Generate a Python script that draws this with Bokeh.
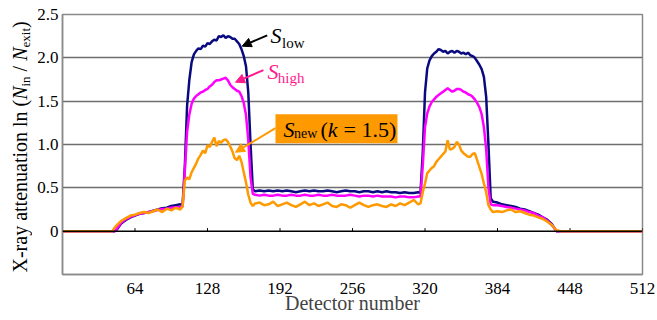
from bokeh.plotting import figure
from bokeh.layouts import row
from bokeh.models import (Range1d, FixedTicker, CustomJSTickFormatter, Span, Label,
                          Arrow, NormalHead, BoxAnnotation)
from bokeh.embed import file_html
from bokeh.resources import INLINE

# ---------------- data ----------------
detector = [0, 40, 44, 46, 48,
            52, 56, 60, 64, 68, 72, 76, 80, 84, 88, 92, 96, 100, 104,
            106, 108, 110, 112, 114, 116, 118, 120, 122, 124, 126, 128, 130, 132, 134, 136,
            138, 140, 142, 144, 146, 148, 150, 152, 154, 156, 158, 160, 162, 164, 166, 168, 170,
            174, 178, 182, 186, 190, 194, 198, 202, 206, 210, 214, 218, 222, 226, 230, 234, 238,
            242, 246, 250, 254, 258, 262, 266, 270, 274, 278, 282, 286, 290, 294, 298, 302, 306,
            310, 314,
            316, 318, 320, 322, 324, 326, 328, 330, 332, 334, 336, 338, 340, 342, 344, 346, 348,
            350, 352, 354, 356, 358, 360, 362, 364, 366, 368, 370, 372, 374, 376, 378, 380,
            384, 388, 392, 396, 400, 404, 408, 412, 416, 420, 424, 428, 432, 434, 436, 440, 512]

s_low = [0, 0, 0, 0, 0.02,
         0.09, 0.13, 0.16, 0.18, 0.20, 0.21, 0.22, 0.235, 0.25, 0.265, 0.27, 0.29, 0.30, 0.31,
         0.30, 0.75, 1.45, 1.75, 1.95, 2.04, 2.08, 2.11, 2.10, 2.14, 2.13, 2.17, 2.16, 2.19, 2.21, 2.20,
         2.25, 2.24, 2.26, 2.23, 2.25, 2.24, 2.22, 2.22, 2.19, 2.16, 2.10, 2.02, 1.90, 1.60, 1.00, 0.48, 0.46,
         0.47, 0.46, 0.47, 0.46, 0.47, 0.46, 0.47, 0.46, 0.45, 0.46, 0.47, 0.46, 0.47, 0.46, 0.46, 0.47, 0.46,
         0.45, 0.46, 0.47, 0.46, 0.46, 0.45, 0.46, 0.46, 0.45, 0.46, 0.45, 0.46, 0.45, 0.45, 0.44, 0.45, 0.44,
         0.44, 0.45,
         0.44, 0.90, 1.60, 1.88, 1.97, 2.02, 2.05, 2.07, 2.10, 2.09, 2.07, 2.08, 2.05, 2.07, 2.08, 2.06, 2.08,
         2.07, 2.05, 2.06, 2.04, 2.06, 2.03, 2.02, 2.00, 1.96, 1.92, 1.87, 1.78, 1.55, 1.00, 0.38, 0.34,
         0.33, 0.31, 0.30, 0.29, 0.28, 0.26, 0.25, 0.23, 0.21, 0.19, 0.16, 0.13, 0.08, 0.04, 0.0, 0, 0]

s_high = [0, 0, 0, 0, 0.03,
          0.10, 0.14, 0.165, 0.185, 0.20, 0.21, 0.22, 0.23, 0.245, 0.255, 0.26, 0.27, 0.275, 0.28,
          0.28, 0.70, 1.15, 1.35, 1.47, 1.53, 1.56, 1.58, 1.60, 1.61, 1.63, 1.64, 1.67, 1.69, 1.72, 1.74,
          1.74, 1.75, 1.76, 1.77, 1.74, 1.69, 1.66, 1.64, 1.62, 1.61, 1.56, 1.48, 1.34, 1.05, 0.62, 0.43, 0.42,
          0.41, 0.42, 0.41, 0.41, 0.42, 0.41, 0.41, 0.42, 0.41, 0.41, 0.42, 0.41, 0.41, 0.42, 0.41, 0.41, 0.42,
          0.41, 0.41, 0.41, 0.42, 0.41, 0.40, 0.41, 0.41, 0.40, 0.41, 0.40, 0.40, 0.40, 0.39, 0.40, 0.40, 0.39,
          0.39, 0.40,
          0.40, 0.75, 1.20, 1.36, 1.44, 1.49, 1.52, 1.55, 1.57, 1.59, 1.61, 1.63, 1.65, 1.63, 1.61, 1.62, 1.64,
          1.64, 1.63, 1.61, 1.60, 1.58, 1.57, 1.55, 1.52, 1.48, 1.43, 1.35, 1.20, 0.95, 0.50, 0.31, 0.30,
          0.30, 0.29, 0.28, 0.27, 0.26, 0.25, 0.24, 0.22, 0.21, 0.18, 0.16, 0.12, 0.07, 0.04, 0.0, 0, 0]

s_new = [0, 0, 0, 0.04, 0.07,
         0.12, 0.15, 0.18, 0.19, 0.21, 0.22, 0.21, 0.23, 0.25, 0.22, 0.26, 0.24, 0.27, 0.25,
         0.29, 0.58, 0.62, 0.60, 0.68, 0.73, 0.78, 0.84, 0.88, 0.93, 0.90, 0.99, 0.97, 1.03, 1.08, 0.98,
         1.04, 1.02, 1.05, 1.06, 1.03, 0.98, 0.92, 0.84, 0.82, 0.87, 0.80, 0.68, 0.56, 0.42, 0.33, 0.29, 0.32,
         0.33, 0.30, 0.31, 0.34, 0.29, 0.31, 0.33, 0.30, 0.28, 0.31, 0.34, 0.30, 0.32, 0.29, 0.31, 0.33, 0.29,
         0.28, 0.31, 0.30, 0.27, 0.30, 0.33, 0.30, 0.28, 0.30, 0.31, 0.29, 0.28, 0.31, 0.29, 0.32, 0.30, 0.33,
         0.36, 0.31,
         0.32, 0.45, 0.55, 0.67, 0.70, 0.73, 0.75, 0.80, 0.83, 0.86, 0.89, 0.92, 1.05, 0.94, 0.95, 0.97, 1.03,
         1.00, 0.93, 0.90, 0.88, 0.86, 0.86, 0.89, 0.90, 0.82, 0.74, 0.66, 0.55, 0.45, 0.30, 0.25, 0.22,
         0.23, 0.22, 0.24, 0.25, 0.22, 0.23, 0.21, 0.19, 0.18, 0.16, 0.14, 0.11, 0.07, 0.04, 0.01, 0, 0]

x_ticks = [64, 128, 192, 256, 320, 384, 448, 512]
y_ticks = [0, 0.5, 1.0, 1.5, 2.0, 2.5]
grid_levels = [0.5, 1.0, 1.5, 2.0]

FONT = "Times New Roman"
NAVY = "#0A0A80"
MAGENTA = "#FF00FF"
ORANGE = "#FF9900"
PINK = "#FF1A8C"

LW = 32  # width of the strip holding the vertical axis title

# ---------------- main figure ----------------
p = figure(width=657 - LW, height=320, output_backend="svg", toolbar_location=None,
           x_range=Range1d(0, 512), y_range=Range1d(-0.5, 2.5),
           min_border_left=62 - LW, min_border_right=15, min_border_top=14, min_border_bottom=46)
p.outline_line_color = "#8a8a8a"
p.outline_line_width = 1.5
p.xgrid.visible = False
p.ygrid.ticker = FixedTicker(ticks=grid_levels)
p.ygrid.grid_line_color = "#6e6e6e"
p.ygrid.grid_line_width = 1.3

p.xaxis.ticker = FixedTicker(ticks=x_ticks)
p.yaxis.ticker = FixedTicker(ticks=y_ticks)
p.yaxis.formatter = CustomJSTickFormatter(code="return tick == 0 ? '0' : tick.toFixed(1);")
for ax in (p.xaxis, p.yaxis):
    ax.axis_line_color = "#8a8a8a"
    ax.axis_line_width = 1.5
    ax.major_tick_line_color = None
    ax.minor_tick_line_color = None
    ax.major_tick_out = 0
    ax.major_tick_in = 0
    ax.minor_tick_out = 0
    ax.minor_tick_in = 0
    ax.major_label_text_font = FONT
    ax.major_label_text_font_size = "17px"
    ax.major_label_text_color = "black"
p.xaxis.major_label_standoff = 8
p.yaxis.major_label_standoff = 4
p.xaxis.axis_label = "Detector number"
p.xaxis.axis_label_text_font = FONT
p.xaxis.axis_label_text_font_style = "normal"
p.xaxis.axis_label_text_font_size = "20px"
p.xaxis.axis_label_standoff = -5

p.add_layout(Span(location=0, dimension="width", line_color="black", line_width=1.5))
p.segment(x0=x_ticks, y0=[0] * len(x_ticks), x1=x_ticks, y1=[0.035] * len(x_ticks),
          line_color="black", line_width=1)

p.line(detector, s_low, line_color=NAVY, line_width=2.5)
p.line(detector, s_high, line_color=MAGENTA, line_width=2.5)
p.line(detector, s_new, line_color=ORANGE, line_width=2.5)


def lab(fig, x, y, text, size="22px", style="normal", color="black", **kw):
    fig.add_layout(Label(x=x, y=y, text=text, text_font=FONT,
                         text_font_size=size, text_font_style=style, text_color=color,
                         text_baseline="middle", **kw))

# S_low
p.add_layout(Arrow(x_start=180.7, y_start=2.26, x_end=158.6, y_end=2.135, line_color="black",
                   line_width=2, end=NormalHead(size=9, fill_color="black", line_color="black")))
lab(p, 183.6, 2.256, "S", style="italic")
lab(p, 193.8, 2.168, "low", size="15px")

# S_high
p.add_layout(Arrow(x_start=177.4, y_start=1.858, x_end=152.7, y_end=1.719, line_color=PINK,
                   line_width=2, end=NormalHead(size=9, fill_color=PINK, line_color=PINK)))
lab(p, 181.0, 1.848, "S", style="italic", color=PINK)
lab(p, 190.0, 1.769, "high", size="15px", color=PINK)

# S_new
p.add_layout(BoxAnnotation(left=188.0, right=295.7, bottom=1.015, top=1.35,
                           fill_color=ORANGE, fill_alpha=1.0, line_color=None))
p.add_layout(Arrow(x_start=188.0, y_start=1.188, x_end=152.7, y_end=0.911, line_color=ORANGE,
                   line_width=2, end=NormalHead(size=9, fill_color=ORANGE, line_color=ORANGE)))
lab(p, 195.1, 1.174, "S", style="italic")
lab(p, 204.4, 1.125, "new", size="14px")
lab(p, 227.8, 1.174, "(")
lab(p, 234.2, 1.174, "k", style="italic")
lab(p, 248.1, 1.174, "= 1.5)")

# ---------------- strip for the vertical axis title ----------------
# its frame is aligned with the main frame (14 px .. 274 px); 1 unit = 1 pixel
t = figure(width=LW, height=320, output_backend="svg", toolbar_location=None,
           x_range=Range1d(0, LW), y_range=Range1d(0, 260),
           x_axis_location=None, y_axis_location=None,
           min_border_left=0, min_border_right=0, min_border_top=0, min_border_bottom=0)
t.grid.visible = False
t.outline_line_color = None

mx = 19.3    # centre line of the main text
sx = 25.1    # centre line of the subscripts
rot = dict(angle=90, angle_units="deg")
lab(t, mx, 2, "X-ray attenuation ln (", size="20px", **rot)
lab(t, mx, 174.7, "N", size="20px", style="italic", **rot)
lab(t, sx, 188.0, "in", size="13px", **rot)
lab(t, mx, 203.1, "/", size="20px", **rot)
lab(t, mx, 213.7, "N", size="20px", style="italic", **rot)
lab(t, sx, 227.0, "exit", size="13px", **rot)
lab(t, mx, 246.5, ")", size="20px", **rot)

open("out.html", "w").write(file_html(row(t, p), INLINE))
